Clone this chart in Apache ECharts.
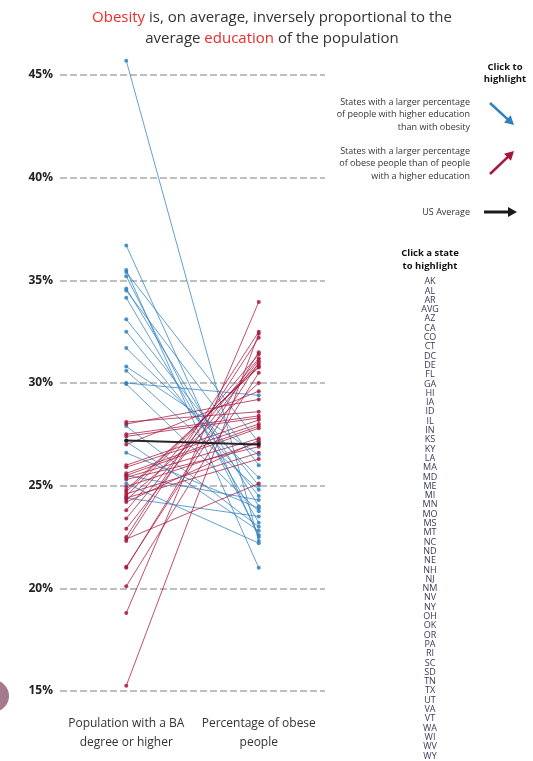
<!DOCTYPE html>
<html><head><meta charset="utf-8">
<script src="https://cdn.jsdelivr.net/npm/echarts@6/dist/echarts.min.js"></script>
<style>html,body{margin:0;padding:0;background:#fff}#c{width:533px;height:761px}</style>
</head><body><div id="c"></div>
<script>
// ---- data ----
const states = ['AK','AL','AR','AVG','AZ','CA','CO','CT','DC','DE','FL','GA','HI','IA','ID','IL','IN','KS','KY','LA','MA','MD','ME','MI','MN','MO','MS','MT','NC','ND','NE','NH','NJ','NM','NV','NY','OH','OK','OR','PA','RI','SC','SD','TN','TX','UT','VA','VT','WA','WI','WV','WY'];
const baDegree = [27.5,22.3,20.1,27.2,25.5,29.95,35.5,35.2,45.7,26.0,24.4,27.0,27.9,24.6,24.2,30.6,22.9,30.0,21.0,21.05,36.7,35.4,25.3,24.5,31.7,24.7,18.8,26.6,25.4,25.6,27.4,33.1,34.6,25.1,22.4,32.5,24.3,23.4,28.0,25.9,28.1,23.8,24.95,22.5,24.8,27.15,34.5,34.15,30.8,25.5,15.25,24.4];
const obesity  = [28.4,32.2,30.5,27.0,24.3,23.75,21.0,22.6,22.3,28.2,23.5,29.6,23.0,26.6,27.2,24.8,31.1,29.4,31.5,31.0,22.5,27.1,26.9,30.9,25.4,30.8,33.95,23.9,27.3,27.9,28.3,25.0,24.0,22.2,25.1,24.5,30.0,31.2,29.2,28.0,28.6,31.4,27.1,32.5,30.75,22.8,26.0,23.2,26.5,27.8,32.4,26.3];
const categories = ['Population with a BA\ndegree or higher', 'Percentage of obese\npeople'];
const yMin = 15, yMax = 45, yStep = 5;

const BLUE = '#2f80bf', RED = '#a8163c', BLACK = '#1a1a1a';
const FONT = '"Open Sans", "Noto Sans", sans-serif';

const chart = echarts.init(document.getElementById('c'), null, {renderer: 'canvas'});

const series = [];
const order = states.map((s, i) => i).sort((a, b) => {
  const ra = states[a] === 'AVG' ? 2 : 0, rb = states[b] === 'AVG' ? 2 : 0;
  return ra - rb;
});
order.forEach(i => {
  const avg = states[i] === 'AVG';
  const col = avg ? BLACK : (baDegree[i] > obesity[i] ? BLUE : RED);
  series.push({
    type: 'line', name: states[i],
    data: [baDegree[i], obesity[i]],
    symbol: 'circle', symbolSize: 4, clip: false,
    itemStyle: {color: col, opacity: avg ? 1 : 0.85},
    lineStyle: {color: col, width: avg ? 2 : 1, opacity: avg ? 0.95 : 0.75},
    z: avg ? 5 : 2, silent: true
  });
});

const stateList = states.slice().sort().join('\n');

function arrow(x1, y1, x2, y2, color, w, head) {
  const ang = Math.atan2(y2 - y1, x2 - x1);
  const hx = x2, hy = y2;
  const bx = hx - head * Math.cos(ang), by = hy - head * Math.sin(ang);
  const px = -Math.sin(ang) * head * 0.55, py = Math.cos(ang) * head * 0.55;
  return [
    {type: 'line', shape: {x1, y1, x2: bx + Math.cos(ang), y2: by + Math.sin(ang)}, style: {stroke: color, lineWidth: w}},
    {type: 'polygon', shape: {points: [[hx, hy], [bx + px, by + py], [bx - px, by - py]]}, style: {fill: color}}
  ];
}

const legendText = {fontSize: 9, fontFamily: FONT, fill: '#333', align: 'right', lineHeight: 12.5};

const graphic = [
  {type: 'text', x: 272, y: 7, style: {
    text: '{r|Obesity} is, on average, inversely proportional to the\naverage {r|education} of the population',
    align: 'center', fontSize: 15, fontFamily: FONT, fill: '#333', lineHeight: 21,
    rich: {r: {fill: '#ee2a2a', fontSize: 15, fontFamily: FONT}}
  }},
  {type: 'text', x: 505, y: 61, style: {text: 'Click to\nhighlight', align: 'center', fontSize: 9.5, fontWeight: 'bold', fontFamily: FONT, fill: '#111', lineHeight: 12.5}},
  {type: 'text', x: 470, y: 96, style: Object.assign({text: 'States with a larger percentage\nof people with higher education\nthan with obesity'}, legendText)},
  {type: 'text', x: 470, y: 145, style: Object.assign({text: 'States with a larger percentage\nof obese people than of people\nwith a higher education'}, legendText)},
  {type: 'text', x: 470, y: 206, style: Object.assign({text: 'US Average'}, legendText)},
  ...arrow(490, 103, 514, 125, BLUE, 2.5, 9),
  ...arrow(490, 174, 514, 151, RED, 2.5, 9),
  ...arrow(484, 212, 517, 212, BLACK, 3, 9),
  {type: 'text', x: 430, y: 247, style: {text: 'Click a state\nto highlight', align: 'center', fontSize: 9.5, fontWeight: 'bold', fontFamily: FONT, fill: '#111', lineHeight: 13}},
  {type: 'text', x: 430, y: 277, style: {text: stateList, align: 'center', fontSize: 9, fontFamily: FONT, fill: '#3a3a55', lineHeight: 9.3}},
  {type: 'circle', shape: {cx: -7, cy: 696, r: 16}, style: {fill: '#a67a8c'}}
];

chart.setOption({
  animation: false,
  grid: {left: 60, right: 208, top: 75, bottom: 70, containLabel: false},
  xAxis: {
    type: 'category', data: categories, boundaryGap: true,
    axisLine: {show: false}, axisTick: {show: false},
    axisLabel: {fontSize: 12, fontFamily: FONT, color: '#333', margin: 23, lineHeight: 19, interval: 0}
  },
  yAxis: {
    type: 'value', min: yMin, max: yMax, interval: yStep,
    axisLine: {show: false}, axisTick: {show: false},
    axisLabel: {formatter: '{value}%', fontSize: 12, fontWeight: 'bold', fontFamily: FONT, color: '#222', margin: 7},
    splitLine: {lineStyle: {color: '#aaa', width: 1.5, type: [7, 3]}}
  },
  series: series,
  graphic: graphic
});
</script></body></html>
